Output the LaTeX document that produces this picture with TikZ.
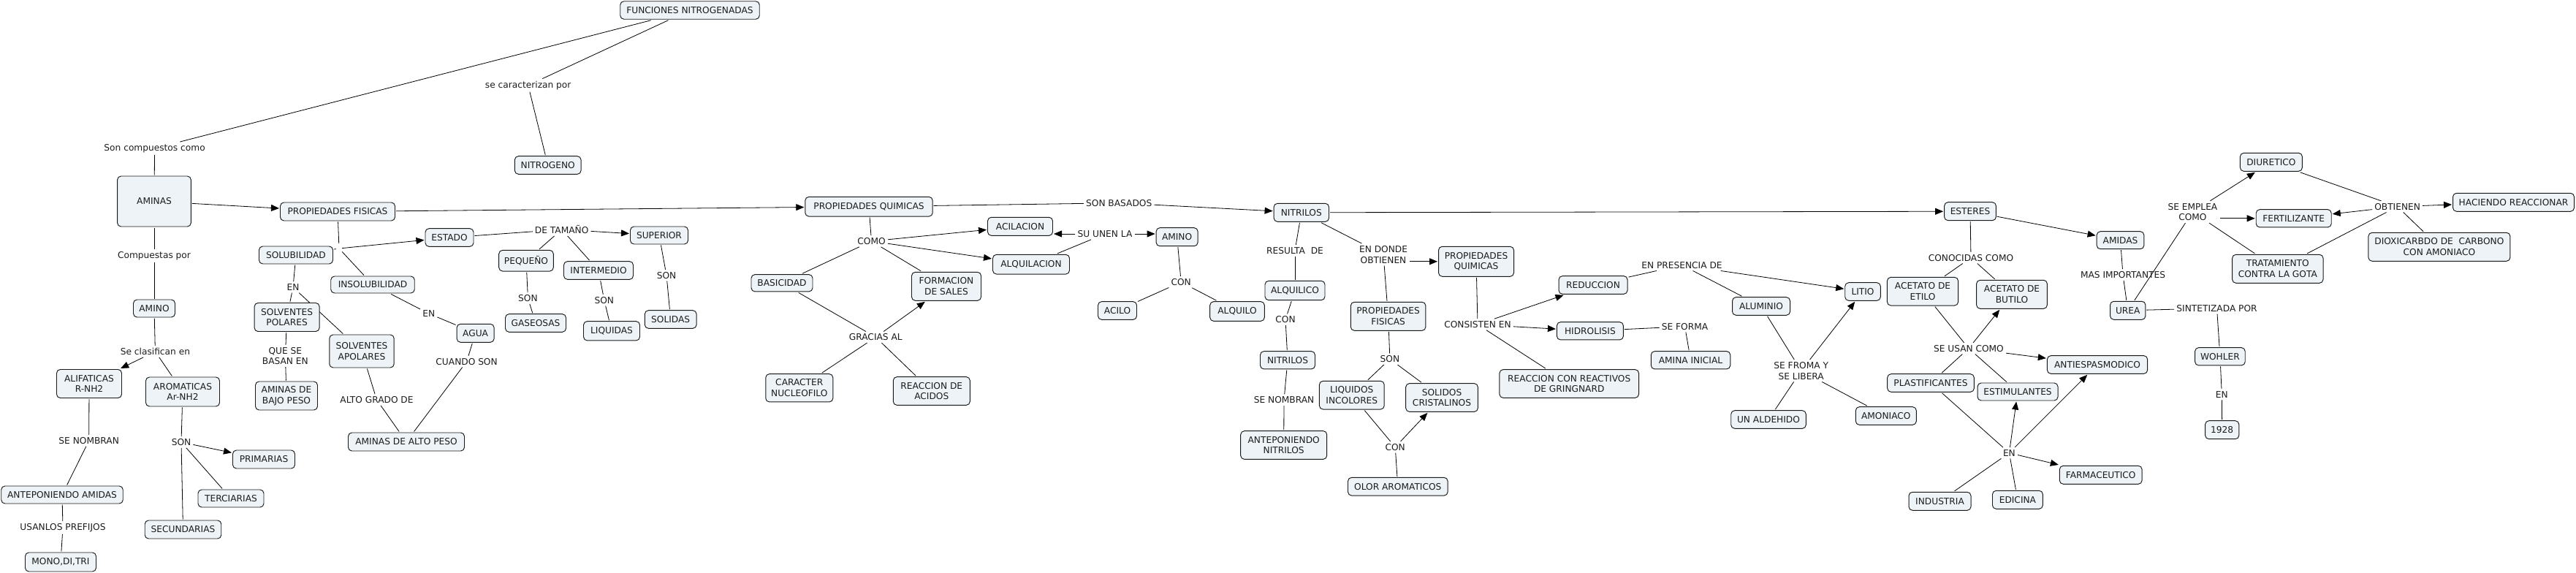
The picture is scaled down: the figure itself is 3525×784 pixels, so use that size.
\documentclass[tikz,border=0pt]{standalone}
\usepackage{fontspec}
\setmainfont{DejaVu Sans}
\usetikzlibrary{arrows.meta,backgrounds}
\definecolor{boxfill}{RGB}{237,243,246}
\definecolor{txt}{RGB}{28,28,28}
\begin{document}
\begin{tikzpicture}[x=1pt,y=-1pt,
  font=\fontsize{12.2}{14.7}\selectfont, text=txt,
  box/.style 2 args={draw=black!90, line width=0.95pt, rounded corners=5pt, fill=boxfill,
    align=center, inner sep=1pt, outer sep=1.5pt, minimum width=#1, minimum height=#2},
  lab/.style={align=center, inner sep=3pt},
  con/.style={line width=0.8pt, draw=black},
  arr/.style={con, -{Triangle[length=11pt,width=9pt]}}]
\useasboundingbox (0,0) rectangle (3525,784);
% ---------- boxes ----------
\node[box={190.5pt}{24.5pt}] (fn) at (944,14) {FUNCIONES NITROGENADAS};
\node[box={90.7pt}{24.6pt}] (nitrogeno) at (749.7,226) {NITROGENO};
\node[box={100.7pt}{69pt}] (aminas) at (211,275.5) {AMINAS};
\node[box={157pt}{25pt}] (pf) at (462,289.5) {PROPIEDADES FISICAS};
\node[box={57pt}{24pt}] (amino) at (211,422) {AMINO};
\node[box={89pt}{39pt}] (alif) at (122,525) {ALIFATICAS\\R-NH2};
\node[box={101pt}{40pt}] (arom) at (250,536) {AROMATICAS\\Ar-NH2};
\node[box={166.5pt}{24pt}] (antam) at (85,677) {ANTEPONIENDO AMIDAS};
\node[box={97pt}{26pt}] (mono) at (83,769) {MONO,DI,TRI};
\node[box={85pt}{25pt}] (prim) at (361,628.5) {PRIMARIAS};
\node[box={90pt}{24pt}] (terc) at (316,682) {TERCIARIAS};
\node[box={104.5pt}{25pt}] (secu) at (250.5,724.5) {SECUNDARIAS};
\node[box={101pt}{24pt}] (solub) at (405,349) {SOLUBILIDAD};
\node[box={114.5pt}{23pt}] (insol) at (510,389.5) {INSOLUBILIDAD};
\node[box={89pt}{39pt}] (spol) at (392.6,434) {SOLVENTES\\POLARES};
\node[box={88.4pt}{45pt}] (sapol) at (495,480.5) {SOLVENTES\\APOLARES};
\node[box={85pt}{39pt}] (bajo) at (392,541.5) {AMINAS DE\\BAJO PESO};
\node[box={159pt}{25pt}] (alto) at (556,604.5) {AMINAS DE ALTO PESO};
\node[box={51pt}{25pt}] (agua) at (650.6,455.8) {AGUA};
\node[box={66pt}{24.6pt}] (estado) at (615,325) {ESTADO};
\node[box={79pt}{24pt}] (super) at (902,322) {SUPERIOR};
\node[box={74.6pt}{28.7pt}] (peq) at (720,356.7) {PEQUEÑO};
\node[box={95pt}{24.7pt}] (inter) at (819,370) {INTERMEDIO};
\node[box={83pt}{24.6pt}] (gas) at (733,442) {GASEOSAS};
\node[box={77pt}{26.3pt}] (liq) at (837,452.8) {LIQUIDAS};
\node[box={70.8pt}{24.6pt}] (sol) at (917.7,437) {SOLIDAS};
\node[box={174.4pt}{26.7pt}] (pq) at (1189,282.7) {PROPIEDADES QUIMICAS};
\node[box={84pt}{23.3pt}] (basi) at (1070,387.3) {BASICIDAD};
\node[box={92pt}{38.3pt}] (carac) at (1093.8,530.8) {CARACTER\\NUCLEOFILO};
\node[box={95pt}{39pt}] (formac) at (1295,391.8) {FORMACION\\DE SALES};
\node[box={105pt}{38.7pt}] (reacac) at (1274.8,535) {REACCION DE\\ACIDOS};
\node[box={89pt}{25pt}] (acil) at (1396,309.8) {ACILACION};
\node[box={105pt}{26.7pt}] (alquil) at (1411,361.7) {ALQUILACION};
\node[box={57pt}{25pt}] (amino2) at (1610.6,324.2) {AMINO};
\node[box={53pt}{24.7pt}] (acilo) at (1529,425) {ACILO};
\node[box={74.6pt}{26.7pt}] (alquilo) at (1693,426) {ALQUILO};
\node[box={75.4pt}{25pt}] (nitr) at (1780.8,290.8) {NITRILOS};
\node[box={82pt}{26.4pt}] (alqco) at (1772,397.5) {ALQUILICO};
\node[box={75pt}{24.3pt}] (nitr2) at (1762,492.8) {NITRILOS};
\node[box={118pt}{38.7pt}] (antnit) at (1756.7,609) {ANTEPONIENDO\\NITRILOS};
\node[box={103pt}{41pt}] (pq2) at (2020,357.8) {PROPIEDADES\\QUIMICAS};
\node[box={102.6pt}{39pt}] (pf2) at (1899.6,432.8) {PROPIEDADES\\FISICAS};
\node[box={88.8pt}{38.7pt}] (liqinc) at (1849.8,540.7) {LIQUIDOS\\INCOLORES};
\node[box={98.7pt}{38.7pt}] (solcri) at (1973,544) {SOLIDOS\\CRISTALINOS};
\node[box={136.6pt}{24.7pt}] (olor) at (1912.8,665.7) {OLOR AROMATICOS};
\node[box={94pt}{24.7pt}] (reduc) at (2180,390) {REDUCCION};
\node[box={91pt}{24.3pt}] (hidro) at (2175.9,452.8) {HIDROLISIS};
\node[box={190.6pt}{38.7pt}] (grign) at (2147.2,525) {REACCION CON REACTIVOS\\DE GRINGNARD};
\node[box={108.5pt}{24.3pt}] (aminini) at (2313.5,492.8) {AMINA INICIAL};
\node[box={79pt}{24.6pt}] (alum) at (2410,419) {ALUMINIO};
\node[box={48.6pt}{24.6pt}] (litio) at (2549,399) {LITIO};
\node[box={102.6pt}{24.6pt}] (aldeh) at (2420,574) {UN ALDEHIDO};
\node[box={83pt}{24.6pt}] (amoni) at (2580.8,569) {AMONIACO};
\node[box={70.8pt}{25pt}] (ester) at (2696,289.2) {ESTERES};
\node[box={97.2pt}{38.7pt}] (aetilo) at (2631,398.7) {ACETATO DE\\ETILO};
\node[box={96.8pt}{39pt}] (abutilo) at (2753,402.8) {ACETATO DE\\BUTILO};
\node[box={118.7pt}{24.6pt}] (plast) at (2642,524) {PLASTIFICANTES};
\node[box={110pt}{24pt}] (estim) at (2761,536) {ESTIMULANTES};
\node[box={137.3pt}{24.6pt}] (antiesp) at (2870,499) {ANTIESPASMODICO};
\node[box={112.8pt}{25pt}] (farma) at (2874.7,649.8) {FARMACEUTICO};
\node[box={85pt}{25pt}] (indus) at (2654.5,685.8) {INDUSTRIA};
\node[box={68.9pt}{25pt}] (edic) at (2760.9,683.8) {EDICINA};
\node[box={64.7pt}{24pt}] (amidas) at (2901.5,328.7) {AMIDAS};
\node[box={48.4pt}{25pt}] (urea) at (2911.7,424.8) {UREA};
\node[box={85pt}{25pt}] (diur) at (3107.9,221.8) {DIURETICO};
\node[box={103pt}{24.3pt}] (fert) at (3138.7,298.8) {FERTILIZANTE};
\node[box={124.4pt}{39pt}] (trat) at (3116.8,367.8) {TRATAMIENTO\\CONTRA LA GOTA};
\node[box={166pt}{25pt}] (hacien) at (3439.5,276.8) {HACIENDO REACCIONAR};
\node[box={194pt}{39pt}] (dioxi) at (3337.9,337.8) {DIOXICARBDO DE\ \ CARBONO\\CON AMONIACO};
\node[box={68.6pt}{24.3pt}] (wohler) at (3037.9,487.8) {WOHLER};
\node[box={46.2pt}{25pt}] (y1928) at (3040.7,588.2) {1928};
% ---------- linking phrases ----------
\node[lab] (lsoncomp) at (211.6,203) {Son compuestos como};
\node[lab] (lsecar) at (722.7,116.7) {se caracterizan por};
\node[lab] (lcompuestas) at (211,350) {Compuestas por};
\node[lab] (lseclas) at (212.4,481) {Se clasifican en};
\node[lab] (lsenomb) at (121.7,603) {SE NOMBRAN};
\node[lab] (lusanlos) at (86,722) {USANLOS PREFIJOS};
\node[lab] (lsonA) at (248,605) {SON};
\node[lab, inner sep=0pt, minimum width=8pt, minimum height=14pt] (j1) at (464,340) {};
\node[lab] (lenA) at (401,393) {EN};
\node[lab] (lquese) at (390.4,487) {QUE SE\\BASAN EN};
\node[lab] (lalto) at (515.5,547) {ALTO GRADO DE};
\node[lab] (lenB) at (586.7,429) {EN};
\node[lab] (lcuando) at (638.6,494.7) {CUANDO SON};
\node[lab] (ldetam) at (768.7,314) {DE TAMAÑO};
\node[lab] (lsongas) at (722.4,408) {SON};
\node[lab] (lsonliq) at (826.8,410.7) {SON};
\node[lab] (lsonsol) at (912,376.7) {SON};
\node[lab] (lcomo) at (1192.5,330) {COMO};
\node[lab] (lgracias) at (1198.3,461.3) {GRACIAS AL};
\node[lab] (lsunen) at (1512,320) {SU UNEN LA};
\node[lab] (lconA) at (1616.2,386) {CON};
\node[lab] (lsonbas) at (1531.2,277.7) {SON BASADOS};
\node[lab] (lresulta) at (1772,342.7) {RESULTA\ \ DE};
\node[lab] (lconB) at (1759,437.3) {CON};
\node[lab] (lsenombB) at (1757,547.3) {SE NOMBRAN};
\node[lab] (lendonde) at (1893,348.3) {EN DONDE\\OBTIENEN};
\node[lab] (lsonB) at (1901.9,491.3) {SON};
\node[lab] (lconC) at (1909.2,611.7) {CON};
\node[lab] (lconsis) at (2022,444) {CONSISTEN EN};
\node[lab] (lenpres) at (2301.5,362.7) {EN PRESENCIA DE};
\node[lab] (lseforma) at (2305.5,446.7) {SE FORMA};
\node[lab] (lsefroma) at (2464.7,507.3) {SE FROMA Y\\SE LIBERA};
\node[lab] (lconoc) at (2697,352.7) {CONOCIDAS COMO};
\node[lab] (lseusan) at (2693.9,476.7) {SE USAN COMO};
\node[lab] (lenC) at (2749.4,619.7) {EN};
\node[lab] (lmasimp) at (2905,376) {MAS IMPORTANTES};
\node[lab] (lseemplea) at (3000.4,290) {SE EMPLEA\\COMO};
\node[lab] (lobtienen) at (3280.6,282.7) {OBTIENEN};
\node[lab] (lsintet) at (3033.5,421.7) {SINTETIZADA POR};
\node[lab] (lenD) at (3040.3,539.7) {EN};
% ---------- connectors ----------
\begin{scope}[on background layer]
\fill[white] (0,0) rectangle (3525,784);
\draw[con] (fn) -- (lsoncomp);
\draw[con] (lsoncomp) -- (aminas);
\draw[con] (fn) -- (lsecar);
\draw[con] (lsecar) -- (nitrogeno);
\draw[arr] (aminas) -- (pf);
\draw[con] (aminas) -- (lcompuestas);
\draw[con] (lcompuestas) -- (amino);
\draw[con] (amino) -- (lseclas);
\draw[arr] (lseclas) -- (alif);
\draw[con] (lseclas) -- (arom);
\draw[con] (alif) -- (lsenomb);
\draw[con] (lsenomb) -- (antam);
\draw[con] (antam) -- (lusanlos);
\draw[con] (lusanlos) -- (mono);
\draw[con] (arom) -- (lsonA);
\draw[arr] (lsonA) -- (prim);
\draw[con] (lsonA) -- (terc);
\draw[con] (lsonA) -- (secu);
\draw[con] (pf) -- (j1);
\draw[arr] (j1) -- (estado);
\draw[con] (j1) -- (solub);
\draw[con] (j1) -- (insol);
\draw[con] (solub) -- (lenA);
\draw[con] (lenA) -- (spol);
\draw[con] (lenA) -- (sapol);
\draw[con] (spol) -- (lquese);
\draw[con] (lquese) -- (bajo);
\draw[con] (sapol) -- (lalto);
\draw[con] (lalto) -- (alto);
\draw[con] (insol) -- (lenB);
\draw[con] (lenB) -- (agua);
\draw[con] (agua) -- (lcuando);
\draw[con] (lcuando) -- (alto);
\draw[con] (estado) -- (ldetam);
\draw[arr] (ldetam) -- (super);
\draw[con] (ldetam) -- (peq);
\draw[con] (ldetam) -- (inter);
\draw[con] (peq) -- (lsongas);
\draw[con] (lsongas) -- (gas);
\draw[con] (inter) -- (lsonliq);
\draw[con] (lsonliq) -- (liq);
\draw[con] (super) -- (lsonsol);
\draw[con] (lsonsol) -- (sol);
\draw[arr] (pf) -- (pq);
\draw[con] (pq) -- (lcomo);
\draw[con] (lcomo) -- (basi);
\draw[con] (lcomo) -- (formac);
\draw[arr] (lcomo) -- (acil);
\draw[arr] (lcomo) -- (alquil);
\draw[con] (basi) -- (lgracias);
\draw[arr] (lgracias) -- (formac);
\draw[con] (lgracias) -- (carac);
\draw[con] (lgracias) -- (reacac);
\draw[con] (alquil) -- (lsunen);
\draw[arr] (lsunen.west) -- (lsunen.west -| acil.east);
\draw[arr] (lsunen.east) -- (lsunen.east -| amino2.west);
\draw[con] (amino2) -- (lconA);
\draw[con] (lconA) -- (acilo);
\draw[con] (lconA) -- (alquilo);
\draw[con] (pq) -- (lsonbas);
\draw[arr] (lsonbas) -- (nitr);
\draw[con] (nitr) -- (lresulta);
\draw[con] (lresulta) -- (alqco);
\draw[con] (alqco) -- (lconB);
\draw[con] (lconB) -- (nitr2);
\draw[con] (nitr2) -- (lsenombB);
\draw[con] (lsenombB) -- (antnit);
\draw[con] (nitr) -- (lendonde);
\draw[arr] (lendonde.east |- pq2.west) -- (pq2.west);
\draw[con] (lendonde) -- (pf2);
\draw[arr] (nitr) -- (ester);
\draw[con] (pf2) -- (lsonB);
\draw[con] (lsonB) -- (liqinc);
\draw[con] (lsonB) -- (solcri);
\draw[con] (liqinc) -- (lconC);
\draw[arr] (lconC) -- (solcri);
\draw[con] (lconC) -- (olor);
\draw[con] (pq2) -- (lconsis);
\draw[arr] (lconsis) -- (reduc);
\draw[arr] (lconsis) -- (hidro);
\draw[con] (lconsis) -- (grign);
\draw[con] (reduc) -- (lenpres);
\draw[con] (lenpres) -- (alum);
\draw[arr] (lenpres) -- (litio);
\draw[con] (hidro) -- (lseforma);
\draw[con] (lseforma) -- (aminini);
\draw[con] (alum) -- (lsefroma);
\draw[arr] (lsefroma) -- (litio);
\draw[con] (lsefroma) -- (aldeh);
\draw[con] (lsefroma) -- (amoni);
\draw[con] (ester) -- (lconoc);
\draw[con] (lconoc) -- (aetilo);
\draw[con] (lconoc) -- (abutilo);
\draw[con] (aetilo) -- (lseusan);
\draw[arr] (lseusan) -- (abutilo);
\draw[arr] (lseusan) -- (antiesp);
\draw[con] (lseusan) -- (plast);
\draw[con] (lseusan) -- (estim);
\draw[con] (plast) -- (lenC);
\draw[arr] (lenC) -- (estim);
\draw[arr] (lenC) -- (antiesp);
\draw[arr] (lenC) -- (farma);
\draw[con] (lenC) -- (indus);
\draw[con] (lenC) -- (edic);
\draw[arr] (ester) -- (amidas);
\draw[con] (amidas) -- (lmasimp);
\draw[con] (lmasimp) -- (urea);
\draw[con] (urea) -- (lseemplea);
\draw[arr] (lseemplea) -- (diur);
\draw[arr] (lseemplea.east |- fert.west) -- (fert.west);
\draw[con] (lseemplea) -- (trat);
\draw[con] (urea) -- (lsintet);
\draw[con] (lsintet) -- (wohler);
\draw[con] (wohler) -- (lenD);
\draw[con] (lenD) -- (y1928);
\draw[con] (diur) -- (lobtienen);
\draw[arr] (lobtienen) -- (fert);
\draw[arr] (lobtienen) -- (hacien);
\draw[con] (lobtienen) -- (trat);
\draw[con] (lobtienen) -- (dioxi);
\end{scope}
\end{tikzpicture}
\end{document}
